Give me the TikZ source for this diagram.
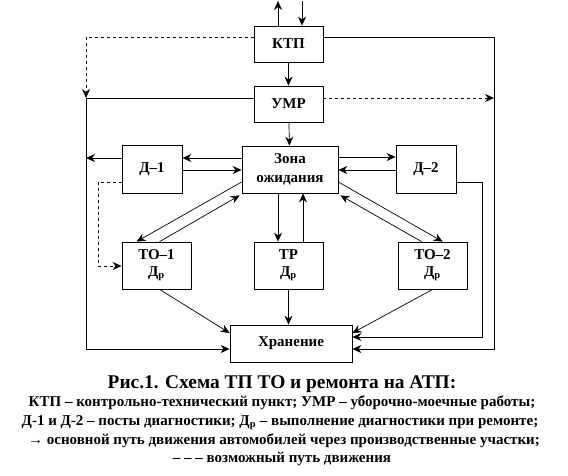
\documentclass[tikz,border=0pt]{standalone}
\usepackage{fontspec}
\setmainfont{Liberation Serif}
\usetikzlibrary{arrows.meta,calc}
\begin{document}
\begin{tikzpicture}[x=1pt,y=-1pt,
  box/.style={draw,line width=0.8pt,inner sep=0pt,align=center,font=\fontsize{15}{17}\selectfont\bfseries},
  arr/.style={line width=0.7pt,-{Stealth[length=9pt,width=8pt,inset=3pt]}},
  dsh/.style={line width=0.7pt,dash pattern=on 3pt off 3pt,-{Stealth[length=9pt,width=8pt,inset=3pt]}},
  captext/.style={anchor=base,inner sep=0pt,font=\fontsize{15}{17}\selectfont\bfseries}]
\fill[white] (0,0) rectangle (568,476);
\useasboundingbox (0,0) rectangle (568,476);
% levels
\coordinate (L0) at (0,1);
\coordinate (L37) at (0,37);
\coordinate (L98) at (0,98);
\coordinate (L157) at (0,157);
\coordinate (L158) at (0,158);
\coordinate (L170) at (0,170);
\coordinate (L182) at (0,182);
\coordinate (L266) at (0,266);
\coordinate (L333) at (0,333);
\coordinate (L337) at (0,337);
\coordinate (L349) at (0,349);
\coordinate (V86) at (86,0);
\coordinate (V98) at (98,0);
\coordinate (V278) at (278,0);
\coordinate (V302) at (302,0);
\coordinate (V303) at (303,0);
\coordinate (V482) at (482,0);
\coordinate (V494) at (494,0);
% boxes
\node[box,minimum width=69pt,minimum height=36pt] (ktp) at (288.5,44) {КТП};
\node[box,minimum width=69pt,minimum height=36pt] (umr) at (288.5,104) {УМР};
\node[box,minimum width=96pt,minimum height=47pt] (zona) at (290,169.5) {Зона\\[2pt]ожидания};
\node[box,minimum width=60pt,minimum height=48pt] (d1) at (152,169) {Д–1};
\node[box,minimum width=60pt,minimum height=48pt] (d2) at (426,169) {Д–2};
\node[box,minimum width=69pt,minimum height=47pt] (to1) at (156.5,265.5) {ТО–1\\Д\textsubscript{р}};
\node[box,minimum width=69pt,minimum height=47pt] (tr) at (288.5,265.5) {ТР\\Д\textsubscript{р}};
\node[box,minimum width=69pt,minimum height=47pt] (to2) at (432.5,265.5) {ТО–2\\Д\textsubscript{р}};
\node[box,minimum width=122pt,minimum height=37pt] (hr) at (291,343.5) {Хранение};
% top
\draw[arr] (V278 |- ktp.north) -- (V278 |- L0);
\draw[arr] (V302 |- L0) -- (V302 |- ktp.north);
\draw[arr] (ktp) -- (umr);
\draw[arr] (umr) -- (zona);
% outer loops
\draw[arr] (ktp.east |- L37) -- (V494 |- L37) -- (V494 |- L349) -- (hr.east |- L349);
\draw[dsh] (umr.east |- L98) -- (V494 |- L98);
\draw[dsh] (ktp.west |- L37) -- (V86 |- L37) -- (V86 |- L98);
\draw[arr] (umr.west |- L98) -- (V86 |- L98) -- (V86 |- L349) -- (hr.west |- L349);
% D-1 / D-2
\draw[arr] (zona.west |- L158) -- (d1.east |- L158);
\draw[arr] (d1.east |- L170) -- (zona.west |- L170);
\draw[arr] (d1.west |- L158) -- (V86 |- L158);
\draw[arr] (zona.east |- L157) -- (d2.west |- L157);
\draw[arr] (d2.west |- L170) -- (zona.east |- L170);
\draw[arr] (d2.east |- L182) -- (V482 |- L182) -- (V482 |- L337) -- (hr.east |- L337);
\draw[dsh] (d1.west |- L182) -- (V98 |- L182) -- (V98 |- L266) -- (to1.west |- L266);
% diagonals
\draw[arr] (zona.west |- L182) -- ($(to1.north west)+(15,0)$);
\draw[arr] ($(to1.north west)+(38,0)$) -- ($(zona.south west)+(-2,2)$);
\draw[arr] (zona.east |- L182) -- ($(to2.north west)+(45,0)$);
\draw[arr] ($(to2.north west)+(24,0)$) -- ($(zona.south east)+(2,2)$);
\draw[arr] (V278 |- zona.south) -- (V278 |- tr.north);
\draw[arr] (V303 |- tr.north) -- (V303 |- zona.south);
\draw[arr] (tr.south) -- (tr.south |- hr.north);
\draw[arr] ($(to1.south west)+(38,0)$) -- (hr.west |- L333);
\draw[arr] ($(to2.south west)+(35,0)$) -- (hr.east |- L333);
% caption
\node[captext,font=\fontsize{19.4}{21}\selectfont\bfseries] (t0) at (282,388) {Рис.1. Схема ТП ТО и ремонта на АТП:};
\node[captext] (t1) at (282,406) {КТП – контрольно-технический пункт; УМР – уборочно-моечные работы;};
\node[captext] (t2) at (280,425) {Д-1 и Д-2 – посты диагностики; Д\textsubscript{р} – выполнение диагностики при ремонте;};
\node[captext] (t3) at (284,444) {→ основной путь движения автомобилей через производственные участки;};
\node[captext] (t4) at (282,462) {– – – возможный путь движения};
\end{tikzpicture}
\end{document}
